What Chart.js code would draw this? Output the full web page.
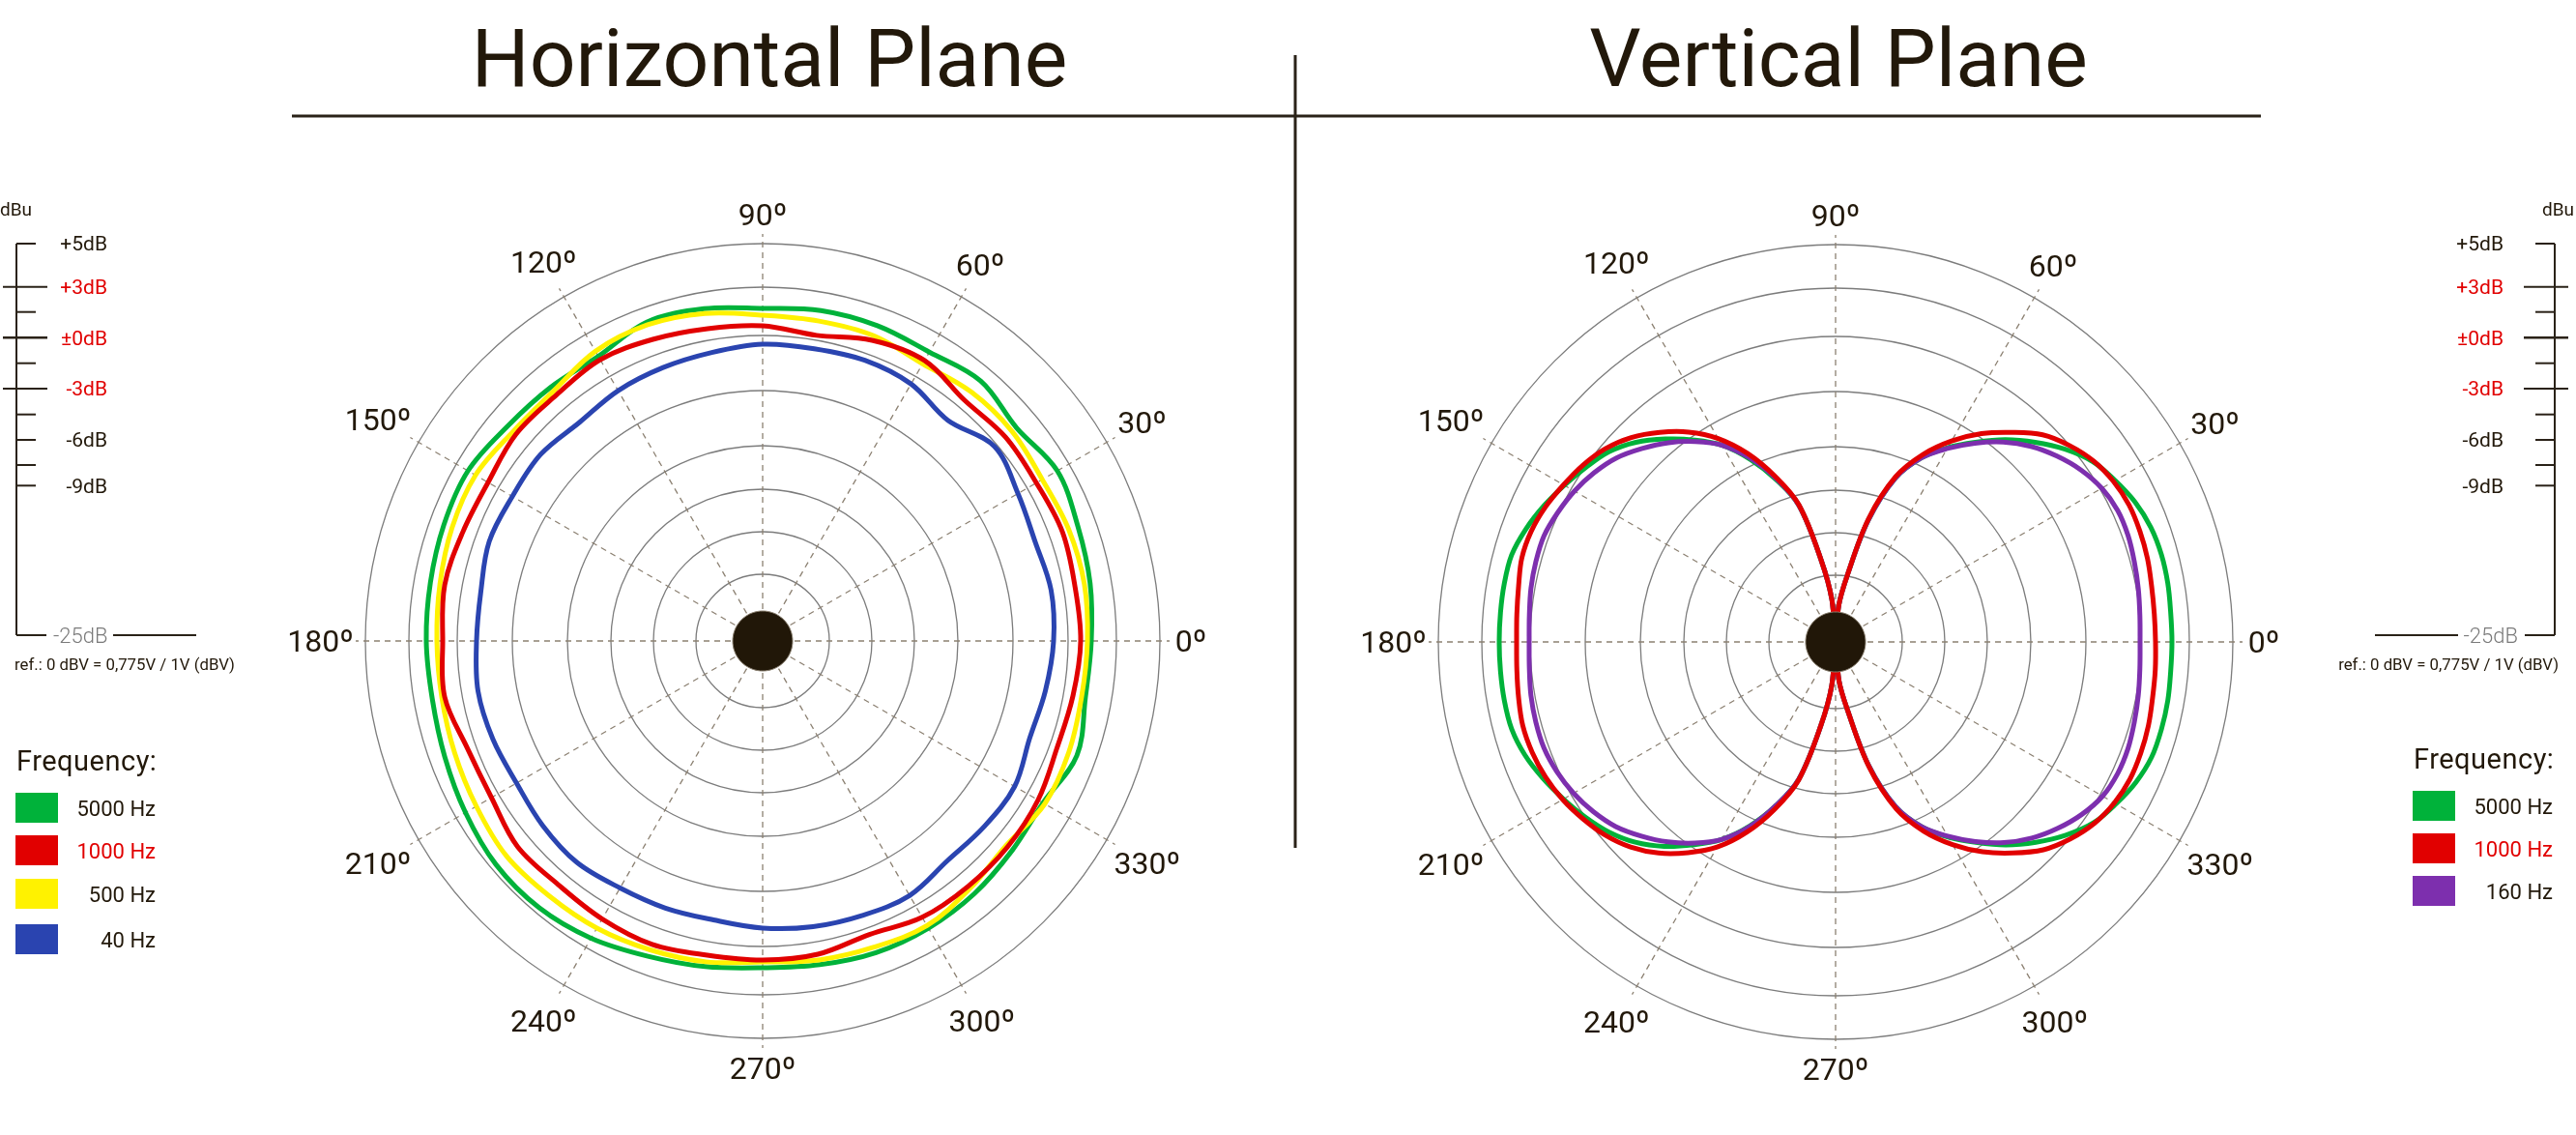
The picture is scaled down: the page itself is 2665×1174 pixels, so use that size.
<!DOCTYPE html>
<html>
<head>
<meta charset="utf-8">
<script src="https://cdn.jsdelivr.net/npm/chart.js@4.4.1/dist/chart.umd.min.js"></script>
<style>
  html, body { margin: 0; padding: 0; background: #fff; }
  #page { position: relative; width: 2665px; height: 1174px; overflow: hidden; }
  canvas { position: absolute; }
  #hChart { left: 278px; top: 152px; }
  #vChart { left: 1388px; top: 153px; }
  #deco { position: absolute; left: 0; top: 0; }
</style>
</head>
<body>
<div id="page">
  <canvas id="hChart" width="1022" height="1022"></canvas>
  <canvas id="vChart" width="1022" height="1022"></canvas>
  <svg id="deco" width="2665" height="1174" font-family="Roboto" fill="#22180a"></svg>
</div>
<script>
// niveles de los anillos (radio relativo, el exterior = 41.1)
const RING_LEVELS = [0, 6.9, 11.3, 15.7, 20.2, 25.9, 31.6, 36.6, 41.1];
const AXIS_MAX = 42.1;   // las lineas radiales pasan un poco del ultimo anillo
const DOT_LEVEL = 3.1;

// Plano horizontal: un valor cada 10º, de 0º a 350º
const H_STEP = 10;
const hNames = ['5000 Hz', '1000 Hz', '500 Hz', '40 Hz'];
const hColors = ['#00b23a', '#e10000', '#fff200', '#2a44b0'];
const h5000 = [34.0, 34.4, 34.7, 35.2, 34.3, 35.1, 34.5, 34.7, 34.7, 34.4, 34.9, 35.1, 34.0, 34.2, 34.5, 35.2, 35.1, 34.9,
               34.8, 34.7, 35.0, 35.5, 36.0, 36.0, 35.5, 34.7, 34.2, 33.8, 34.0, 34.3, 34.3, 34.1, 33.7, 33.5, 34.6, 33.9];
const h1000 = [32.9, 32.8, 33.0, 32.7, 32.8, 32.5, 33.5, 33.1, 32.1, 32.6, 32.8, 33.2, 33.6, 33.2, 33.3, 32.8, 33.0, 33.4,
               33.1, 33.4, 32.5, 32.4, 33.1, 32.9, 33.2, 33.4, 33.0, 33.0, 32.9, 32.3, 33.0, 33.1, 33.1, 32.9, 32.4, 32.6];
const h500  = [33.6, 33.8, 33.7, 33.4, 33.7, 33.6, 33.1, 33.6, 33.6, 33.7, 34.4, 34.8, 34.6, 33.7, 33.7, 34.3, 34.2, 33.9,
               33.7, 33.7, 33.9, 34.2, 34.6, 34.4, 34.3, 34.0, 33.7, 33.2, 33.5, 33.7, 34.0, 33.4, 32.9, 33.7, 33.7, 33.5];
const h40   = [30.1, 30.3, 30.0, 30.5, 31.3, 29.8, 30.7, 30.9, 30.7, 30.7, 30.3, 30.1, 29.9, 29.5, 30.0, 29.9, 30.1, 29.6,
               29.6, 29.9, 29.7, 29.4, 29.7, 29.9, 29.5, 29.4, 29.3, 29.7, 30.0, 30.2, 30.4, 29.7, 29.9, 30.1, 29.4, 29.7];

// Plano vertical: un valor cada 5º, de 0º a 355º
const V_STEP = 5;
const vNames = ['5000 Hz', '1000 Hz', '160 Hz'];
const vColors = ['#00b23a', '#e10000', '#7d2fae'];
const v5000 = [34.8, 34.8, 34.9, 34.9, 34.7, 34.2, 33.4, 32.5, 31.0, 29.2, 27.3, 25.2, 23.2, 21.0, 18.0, 13.0, 7.0, 3.8, 0,
               4.4, 8.6, 14.6, 17.8, 20.8, 23.5, 25.5, 27.4, 29.2, 30.6, 31.5, 32.4, 33.3, 34.1, 34.7, 34.8, 34.8,
               34.8, 34.8, 34.8, 34.7, 34.2, 33.4, 32.5, 31.6, 30.6, 29.3, 27.6, 25.6, 23.6, 21.0, 18.0, 14.7, 8.8, 4.5,
               0, 4.0, 7.2, 13.2, 18.1, 21.1, 23.3, 25.3, 27.4, 29.3, 31.1, 32.6, 33.5, 34.3, 34.8, 34.9, 34.9, 34.8];
const v1000 = [33.1, 33.1, 33.2, 33.4, 33.5, 33.5, 33.2, 32.6, 31.6, 30.3, 28.3, 26.3, 24.0, 21.4, 18.2, 13.2, 7.0, 3.8, 0,
               4.4, 8.6, 14.7, 18.2, 21.5, 24.3, 26.5, 28.3, 29.9, 31.1, 31.9, 32.5, 33.1, 33.5, 33.6, 33.3, 33.1,
               33.0, 33.1, 33.3, 33.5, 33.4, 33.1, 32.6, 31.9, 31.1, 30.0, 28.5, 26.6, 24.5, 21.7, 18.4, 14.8, 8.8, 4.5,
               0, 4.0, 7.2, 13.4, 18.4, 21.6, 24.2, 26.5, 28.5, 30.4, 31.7, 32.7, 33.3, 33.6, 33.6, 33.5, 33.3, 33.2];
const v160  = [31.5, 31.6, 31.8, 32.0, 32.2, 32.2, 31.8, 31.0, 29.9, 28.6, 27.0, 25.1, 23.1, 21.0, 18.0, 13.0, 7.0, 3.8, 0,
               4.4, 8.6, 14.6, 18.0, 21.0, 23.5, 25.3, 26.9, 28.3, 29.6, 30.5, 31.2, 31.7, 32.1, 32.1, 32.0, 31.8,
               31.7, 31.8, 32.0, 32.1, 32.1, 31.8, 31.3, 30.6, 29.7, 28.4, 27.0, 25.4, 23.6, 21.1, 18.0, 14.7, 8.8, 4.5,
               0, 4.0, 7.2, 13.2, 18.1, 21.1, 23.2, 25.2, 27.1, 28.7, 30.0, 31.1, 31.9, 32.2, 32.2, 32.0, 31.8, 31.6];

// escala dBu
const dbLabels = ['+5dB', '+3dB', '±0dB', '-3dB', '-6dB', '-9dB'];
const dbLabelRed = [false, true, true, true, false, false];

Chart.defaults.font.family = 'Roboto';

// etiquetas de angulo centradas fuera del ultimo anillo
const angleLabels = {
    id: 'angleLabels',
    afterDraw(chart, args, opts) {
        const sc = chart.scales.r;
        const ctx = chart.ctx;
        const ring = sc.getDistanceFromCenterForValue(RING_LEVELS[RING_LEVELS.length - 1]);
        ctx.save();
        ctx.font = '32px Roboto';
        ctx.fillStyle = '#22180a';
        ctx.textAlign = 'center';
        ctx.textBaseline = 'alphabetic';
        const halfCap = 11.4;
        chart.data.labels.forEach((label, i) => {
            if (i % opts.every !== 0) return;
            const u = sc.getPointPosition(i, 1);
            const ux = u.x - sc.xCenter, uy = u.y - sc.yCenter;
            const halfW = ctx.measureText(label).width * 0.4;
            const dist = ring + 19 + halfW * Math.abs(ux) + halfCap * Math.abs(uy);
            const p = sc.getPointPosition(i, dist);
            ctx.fillText(label, p.x, p.y + halfCap);
        });
        ctx.restore();
    }
};

function polarChart(id, step, series) {
    const n = 360 / step;
    // indice 0 = 90º arriba, sentido horario
    const angleAt = i => (450 - i * step) % 360;
    const labels = [];
    for (let i = 0; i < n; i++) labels.push(angleAt(i) + 'º');
    const every = 30 / step;
    const pick = arr => labels.map((_, i) => arr[angleAt(i) / step]);

    const datasets = [{
        data: labels.map(() => DOT_LEVEL),
        fill: true, backgroundColor: '#211708', borderColor: '#8a8070', borderWidth: 1,
        pointRadius: 0, tension: 0.4, order: 0
    }];
    series.forEach(s => datasets.push({
        label: s.name, data: pick(s.values), borderColor: s.color, borderWidth: 5,
        fill: false, pointRadius: 0, tension: 0.35, order: s.order, borderJoinStyle: 'round'
    }));

    new Chart(document.getElementById(id), {
        type: 'radar',
        data: { labels, datasets },
        plugins: [angleLabels],
        options: {
            responsive: false, animation: false, events: [], devicePixelRatio: 1,
            layout: { padding: 90 },
            plugins: { legend: { display: false }, tooltip: { enabled: false }, angleLabels: { every } },
            scales: {
                r: {
                    min: 0, max: AXIS_MAX,
                    afterBuildTicks: sc => { sc.ticks = RING_LEVELS.map(v => ({ value: v })); },
                    ticks: { display: false },
                    grid: { circular: true, color: '#7c7c7c', lineWidth: 1.3 },
                    angleLines: {
                        color: '#8c8172', borderDash: [6, 5],
                        lineWidth: c => c.index % every === 0 ? 1.3 : 0
                    },
                    pointLabels: { display: false }
                }
            }
        }
    });
}

polarChart('hChart', H_STEP, [
    { name: hNames[0], color: hColors[0], values: h5000, order: 3 },
    { name: hNames[1], color: hColors[1], values: h1000, order: 1 },
    { name: hNames[2], color: hColors[2], values: h500, order: 2 },
    { name: hNames[3], color: hColors[3], values: h40, order: 4 }
]);
polarChart('vChart', V_STEP, [
    { name: vNames[0], color: vColors[0], values: v5000, order: 3 },
    { name: vNames[1], color: vColors[1], values: v1000, order: 1 },
    { name: vNames[2], color: vColors[2], values: v160, order: 2 }
]);

// Titulos, separadores, escalas y leyendas
const svg = document.getElementById('deco');
const NS = 'http://www.w3.org/2000/svg';
function el(tag, attrs, text) {
    const e = document.createElementNS(NS, tag);
    for (const k in attrs) e.setAttribute(k, attrs[k]);
    if (text !== undefined) e.textContent = text;
    svg.appendChild(e);
    return e;
}
function line(x1, y1, x2, y2, w) {
    el('line', { x1, y1, x2, y2, stroke: '#2a2218', 'stroke-width': w || 2 });
}

el('text', { x: 796, y: 89, 'font-size': 84, 'text-anchor': 'middle' }, 'Horizontal Plane');
el('text', { x: 1902, y: 89, 'font-size': 84, 'text-anchor': 'middle' }, 'Vertical Plane');
line(302, 120, 2339, 120, 3);
line(1340, 57, 1340, 877, 3);

function levelScale(x0, dir, labelX, side) {
    const tickY = [252, 296.7, 322.7, 349.3, 375.7, 402, 428.7, 455, 481, 502.3];
    const tickLong = [false, true, false, true, false, true, false, false, false, false];
    const labelY = [252, 296.7, 349.3, 402, 455, 502.3];
    line(x0, 252, x0, 657);
    tickY.forEach((y, i) => {
        if (tickLong[i]) line(x0 - dir * 14, y, x0 + dir * 32, y, i === 3 ? 2.6 : 2);
        else line(x0, y, x0 + dir * 20, y);
    });
    labelY.forEach((y, i) => el('text', {
        x: labelX, y: y + 7.4, 'font-size': 21, 'text-anchor': 'end',
        fill: dbLabelRed[i] ? '#e10000' : '#22180a'
    }, dbLabels[i]));
    line(x0, 657, x0 + dir * 31, 657);
    line(x0 + dir * 100, 657, x0 + dir * 186, 657);
    el('text', { x: x0 + dir * 38, y: 665, 'font-size': 22, 'font-weight': 300, fill: '#7a7a7a',
                 'text-anchor': side === 'left' ? 'start' : 'end' }, '-25dB');
    el('text', { x: side === 'left' ? 0 : 2663, y: 223, 'font-size': 19,
                 'text-anchor': side === 'left' ? 'start' : 'end' }, 'dBu');
    el('text', { x: side === 'left' ? 15 : 2647, y: 693, 'font-size': 16.8,
                 'text-anchor': side === 'left' ? 'start' : 'end' }, 'ref.: 0 dBV = 0,775V / 1V (dBV)');
}
levelScale(17, 1, 111, 'left');
levelScale(2643, -1, 2590, 'right');

function legend(x, labelRight, titleY, rowsY, names, colors) {
    el('text', { x: x + 1, y: titleY, 'font-size': 29, 'letter-spacing': 0.5 }, 'Frequency:');
    names.forEach((name, i) => {
        el('rect', { x, y: rowsY[i], width: 44, height: 31, fill: colors[i] });
        el('text', { x: labelRight, y: rowsY[i] + 23.5, 'font-size': 22, 'text-anchor': 'end',
                     fill: name === '1000 Hz' ? '#e10000' : '#22180a' }, name);
    });
}
legend(16, 161, 797, [820, 864, 909, 956], hNames, hColors);
legend(2496, 2641, 795, [818, 862, 906], vNames, vColors);
</script>
</body>
</html>
